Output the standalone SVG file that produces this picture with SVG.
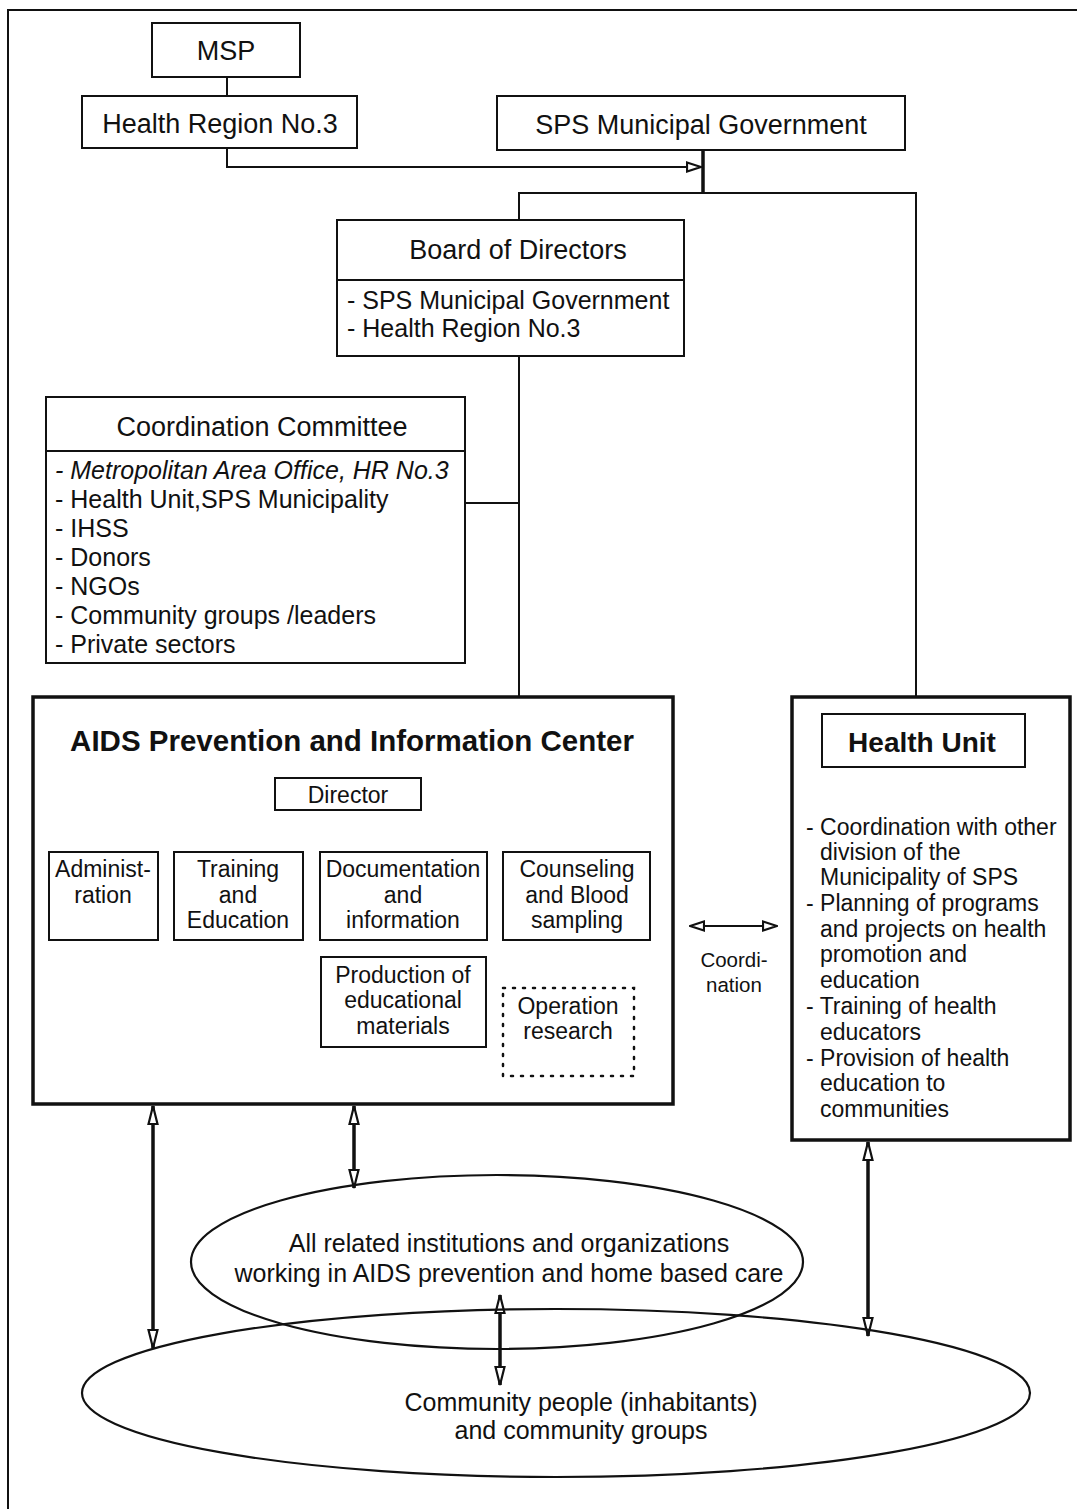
<svg xmlns="http://www.w3.org/2000/svg" width="1077" height="1509" viewBox="0 0 1077 1509">
  <style>
    .box { fill: #fff; stroke: #111; stroke-width: 2; }
    .heavy { fill: #fff; stroke: #111; stroke-width: 3.5; }
    .dotted { fill: none; stroke: #111; stroke-width: 2.5; stroke-dasharray: 2 8; stroke-linecap: round; }
    .line { fill: none; stroke: #111; stroke-width: 2; }
    .thick { fill: none; stroke: #111; stroke-width: 3.5; }
    text { font-family: "Liberation Sans", Arial, sans-serif; fill: #111; }
    .t27 { font-size: 27px; text-anchor: middle; }
    .t25 { font-size: 25px; }
    .t23 { font-size: 23px; }
    .c { text-anchor: middle; }
    .bold { font-weight: bold; }
  </style>
  <defs>
    <marker id="head" viewBox="0 0 20 12" refX="19" refY="6" markerWidth="20" markerHeight="12" markerUnits="userSpaceOnUse" orient="auto-start-reverse">
      <path d="M1,1.5 L19,6 L1,10.5 Z" fill="#fff" stroke="#111" stroke-width="2.2" stroke-linejoin="miter"/>
    </marker>
    <marker id="small" viewBox="0 0 16 12" refX="15" refY="6" markerWidth="16" markerHeight="12" markerUnits="userSpaceOnUse" orient="auto-start-reverse">
      <path d="M1,1.5 L15,6 L1,10.5 Z" fill="#fff" stroke="#111" stroke-width="2.2"/>
    </marker>
  </defs>

  <!-- page frame -->
  <path d="M8,1509 V10 H1077" class="line"/>

  <!-- connectors -->
  <g id="connectors">
    <path d="M227,77 V96" class="line"/>
    <path d="M227,148 V167 H701" class="line" marker-end="url(#small)"/>
    <path d="M703,150 V193" class="thick"/>
    <path d="M519,220 V193 H916 V713" class="line"/>
    <path d="M519,356 V697" class="line"/>
    <path d="M465,503 H519" class="line"/>
    <!-- inside the centre -->
    <path d="M350,810 V835" class="line"/>
    <path d="M95,851 V835 H594 V851" class="line"/>
    <path d="M231,835 V851" class="line"/>
    <path d="M398,835 V851" class="line"/>
    <path d="M402,940 V957" class="line"/>
    <path d="M550,945 V985" class="dotted"/>
    <!-- coordination between centre and health unit -->
    <path d="M690,926 H777" class="line" marker-start="url(#small)" marker-end="url(#small)"/>
    <!-- links to the community -->
    <path d="M153,1106 V1348" class="thick" marker-start="url(#head)" marker-end="url(#head)"/>
    <path d="M354,1106 V1188" class="thick" marker-start="url(#head)" marker-end="url(#head)"/>
    <path d="M500,1295 V1385" class="thick" marker-start="url(#head)" marker-end="url(#head)"/>
    <path d="M868,1142 V1336" class="thick" marker-start="url(#head)" marker-end="url(#head)"/>
  </g>

  <g id="msp">
    <rect x="152" y="23" width="148" height="54" class="box"/>
    <text x="226" y="60" class="t27">MSP</text>
  </g>

  <g id="health-region">
    <rect x="82" y="96" width="275" height="52" class="box"/>
    <text x="220" y="133" class="t27">Health Region No.3</text>
  </g>

  <g id="sps-government">
    <rect x="497" y="96" width="408" height="54" class="box"/>
    <text x="701" y="134" class="t27">SPS Municipal Government</text>
  </g>

  <g id="board">
    <rect x="337" y="220" width="347" height="136" class="box"/>
    <line x1="337" y1="280" x2="684" y2="280" class="line"/>
    <text x="518" y="259" class="t27">Board of Directors</text>
    <text x="347" y="309" class="t25">- SPS Municipal Government</text>
    <text x="347" y="337" class="t25">- Health Region No.3</text>
  </g>

  <g id="coordination-committee">
    <rect x="46" y="397" width="419" height="266" class="box"/>
    <line x1="46" y1="451" x2="465" y2="451" class="line"/>
    <text x="262" y="436" class="t27">Coordination Committee</text>
    <text x="55" y="479" class="t25" font-style="italic">- Metropolitan Area Office, HR No.3</text>
    <text x="55" y="508" class="t25">- Health Unit,SPS Municipality</text>
    <text x="55" y="537" class="t25">- IHSS</text>
    <text x="55" y="566" class="t25">- Donors</text>
    <text x="55" y="595" class="t25">- NGOs</text>
    <text x="55" y="624" class="t25">- Community groups /leaders</text>
    <text x="55" y="653" class="t25">- Private sectors</text>
  </g>

  <g id="aids-center">
    <rect x="33" y="697" width="640" height="407" class="heavy"/>
    <text x="352" y="751" class="bold c" font-size="29.5">AIDS Prevention and Information Center</text>
  </g>

  <g id="director">
    <rect x="275" y="778" width="146" height="32" class="box"/>
    <text x="348" y="803" class="t23 c" font-size="24">Director</text>
  </g>

  <g id="administration">
    <rect x="49" y="852" width="109" height="88" class="box"/>
    <text x="103" y="877" class="t23 c">Administ-</text>
    <text x="103" y="903" class="t23 c">ration</text>
  </g>

  <g id="training">
    <rect x="174" y="852" width="129" height="88" class="box"/>
    <text x="238" y="877" class="t23 c">Training</text>
    <text x="238" y="903" class="t23 c">and</text>
    <text x="238" y="928" class="t23 c">Education</text>
  </g>

  <g id="documentation">
    <rect x="320" y="852" width="167" height="88" class="box"/>
    <text x="403" y="877" class="t23 c">Documentation</text>
    <text x="403" y="903" class="t23 c">and</text>
    <text x="403" y="928" class="t23 c">information</text>
  </g>

  <g id="counseling">
    <rect x="503" y="852" width="147" height="88" class="box"/>
    <text x="577" y="877" class="t23 c">Counseling</text>
    <text x="577" y="903" class="t23 c">and Blood</text>
    <text x="577" y="928" class="t23 c">sampling</text>
  </g>

  <g id="production">
    <rect x="321" y="957" width="165" height="90" class="box"/>
    <text x="403" y="983" class="t23 c">Production of</text>
    <text x="403" y="1008" class="t23 c">educational</text>
    <text x="403" y="1034" class="t23 c">materials</text>
  </g>

  <g id="operation-research">
    <rect x="503" y="988" width="131" height="88" class="dotted"/>
    <text x="568" y="1014" class="t23 c">Operation</text>
    <text x="568" y="1039" class="t23 c">research</text>
  </g>

  <g id="coordination-label">
    <text x="734" y="967" class="c" font-size="20.5">Coordi-</text>
    <text x="734" y="992" class="c" font-size="20.5">nation</text>
  </g>

  <g id="health-unit">
    <rect x="792" y="697" width="278" height="443" class="heavy"/>
    <rect x="822" y="714" width="203" height="53" class="box"/>
    <text x="922" y="752" class="bold c" font-size="28">Health Unit</text>
    <g class="t23">
      <text x="806" y="835">- Coordination with other</text>
      <text x="820" y="860">division of the</text>
      <text x="820" y="885">Municipality of SPS</text>
      <text x="806" y="911">- Planning of programs</text>
      <text x="820" y="937">and projects on health</text>
      <text x="820" y="962">promotion and</text>
      <text x="820" y="988">education</text>
      <text x="806" y="1014">- Training of health</text>
      <text x="820" y="1040">educators</text>
      <text x="806" y="1066">- Provision of health</text>
      <text x="820" y="1091">education to</text>
      <text x="820" y="1117">communities</text>
    </g>
  </g>

  <g id="institutions">
    <ellipse cx="497" cy="1262" rx="306" ry="87" fill="none" stroke="#111" stroke-width="2.2"/>
    <text x="509" y="1252" class="t25 c">All related institutions and organizations</text>
    <text x="509" y="1282" class="t25 c">working in AIDS prevention and home based care</text>
  </g>

  <g id="community">
    <ellipse cx="556" cy="1393" rx="474" ry="84" fill="none" stroke="#111" stroke-width="2.2"/>
    <text x="581" y="1411" class="t25 c">Community people (inhabitants)</text>
    <text x="581" y="1439" class="t25 c">and community groups</text>
  </g>
</svg>
